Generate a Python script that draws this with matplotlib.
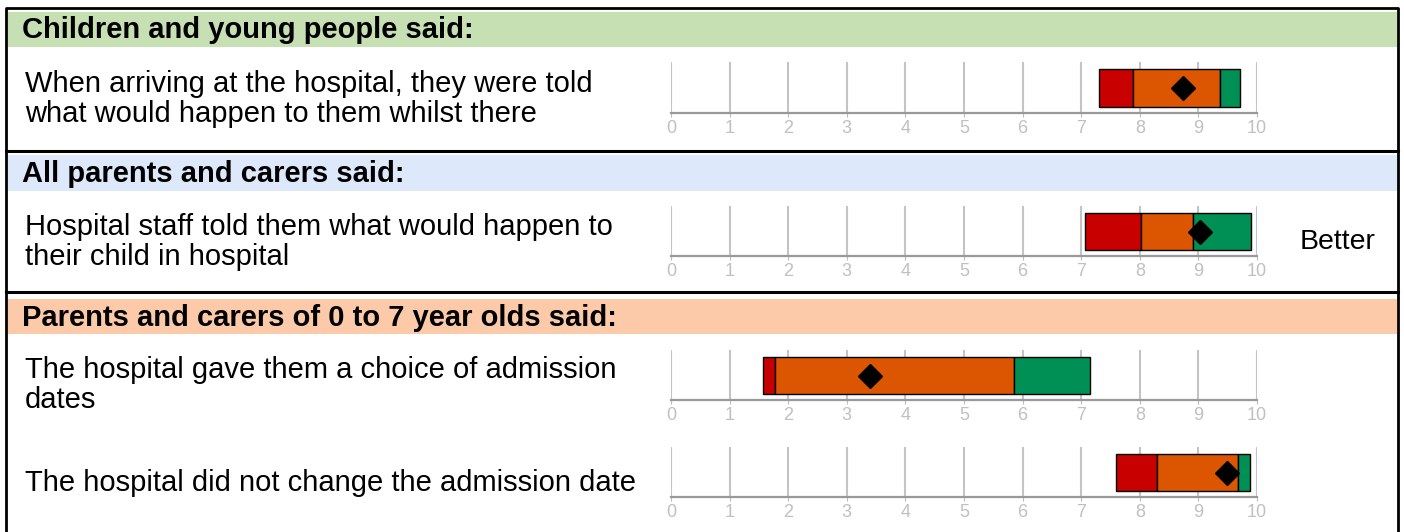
import matplotlib.pyplot as plt
from matplotlib.patches import Rectangle

plt.rcParams['font.family'] = ['Liberation Sans', 'DejaVu Sans']

W, H = 1404, 532

sections = ["Children and young people said:",
            "All parents and carers said:",
            "Parents and carers of 0 to 7 year olds said:"]
section_colors = ["#c6e0b4", "#dde8fb", "#fccaa9"]

questions = ["When arriving at the hospital, they were told\nwhat would happen to them whilst there",
             "Hospital staff told them what would happen to\ntheir child in hospital",
             "The hospital gave them a choice of admission\ndates",
             "The hospital did not change the admission date"]

# band edges: low end of red, red/orange, orange/green, top end of green
red_start = [7.31, 7.07, 1.57, 7.59]
orange_start = [7.89, 8.02, 1.77, 8.29]
green_start = [9.37, 8.90, 5.86, 9.68]
green_end = [9.71, 9.90, 7.15, 9.88]
scores = [8.74, 9.03, 3.39, 9.48]

ticks = list(range(0, 11))
result_labels = ["", "Better", "", ""]

fig = plt.figure(figsize=(W / 100, H / 100), dpi=100)

# layout layer in pixel coordinates
lay = fig.add_axes([0, 0, 1, 1])
lay.set_xlim(0, W)
lay.set_ylim(H, 0)
lay.axis("off")

band_y = [(12, 47), (155, 191), (299, 334)]
for (y0, y1), color, title in zip(band_y, section_colors, sections):
    lay.add_patch(Rectangle((8, y0), 1389, y1 - y0, color=color, lw=0))
    lay.text(22, (y0 + y1) / 2 + 1, title, fontsize=21, fontweight="bold", va="center")

# border and separators
lay.plot([6, 6, 1398, 1398], [540, 7.5, 7.5, 540], color="black", lw=2, solid_capstyle="butt")
for y in [151, 292]:
    lay.plot([6, 1398], [y, y], color="black", lw=2.2)

text_y = [99, 242, 385, 483]
for y, q in zip(text_y, questions):
    lay.text(25, y, q, fontsize=21, va="center", linespacing=1.13)

for y, lab in zip(text_y, result_labels):
    if lab:
        lay.text(1338, y, lab, fontsize=20.5, va="center", ha="center")

# bar axes (pixel top of gridlines, pixel axis line)
rows = [(62, 113), (206, 256), (350, 400), (447, 497)]
x0, x1 = 671, 1257

for i, (top, bot) in enumerate(rows):
    ax = fig.add_axes([x0 / W, 1 - bot / H, (x1 - x0) / W, (bot - top) / H])
    ax.set_xlim(0, 10)
    ax.set_ylim(0, 1)
    segs = [(red_start[i], orange_start[i], "#c80000"),
            (orange_start[i], green_start[i], "#dc5500"),
            (green_start[i], green_end[i], "#009055")]
    for a, b, c in segs:
        ax.barh(0.49, b - a, left=a, height=0.75, color=c, edgecolor="black", linewidth=1, zorder=3)
    ax.plot(scores[i], 0.49, marker="D", color="black", markersize=12, zorder=4)
    ax.set_xticks(ticks)
    ax.set_yticks([])
    ax.grid(axis="x", color="#c4c4c4", lw=1.5, zorder=0)
    ax.set_axisbelow(True)
    for s in ["top", "right", "left"]:
        ax.spines[s].set_visible(False)
    ax.spines["bottom"].set_color("#999999")
    ax.spines["bottom"].set_linewidth(1.6)
    ax.tick_params(axis="x", length=3, color="#bbbbbb", labelcolor="#c0c0c0", labelsize=13, pad=2)
    ax.patch.set_alpha(0)

fig.savefig("out.png", dpi=100)
